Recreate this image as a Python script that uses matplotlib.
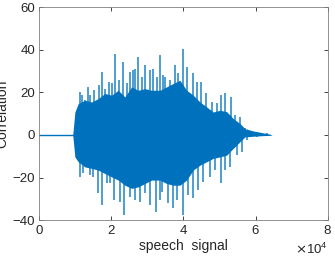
import matplotlib.pyplot as plt
from matplotlib.ticker import ScalarFormatter

plt.rcParams['font.family'] = ['Liberation Sans', 'DejaVu Sans']

# dense part of the waveform (envelope), sample index
core_x = [9300, 9900, 10820, 12680, 14530, 16370, 18220, 20080, 21910, 23770,
          25630, 27460, 29320, 31180, 33480, 35330, 37170, 39030, 40890, 42720,
          44580, 46430, 48270, 50120, 51980, 53820, 55670, 57060, 59360, 62140,
          64000, 64600]
core_upper = [0, 10.8, 14.8, 16.3, 15.5, 17.1, 19.5, 18.7, 21.0, 17.9,
              22.6, 21.0, 21.8, 21.0, 21.0, 22.6, 24.2, 25.7, 21.0, 18.7,
              15.5, 13.2, 10.8, 11.6, 11.0, 7.7, 5.4, 3.0, 1.9, 1.0,
              0.4, 0]
core_lower = [0, -10.3, -12.6, -15.0, -15.7, -16.5, -18.1, -19.7, -21.2, -23.6,
              -25.1, -24.4, -22.8, -21.2, -21.2, -22.8, -23.6, -23.6, -21.2, -16.5,
              -14.2, -12.6, -11.0, -10.3, -9.5, -6.3, -3.2, -0.9, -0.6, -0.3,
              -0.2, 0]

# positive peaks
peak_x = [11290, 11930, 12680, 13420, 14060, 15260, 16560, 17480, 18220, 19330,
          20080, 21000, 22110, 23300, 24240, 25160, 26080, 26550, 27460, 28400,
          29320, 30710, 31620, 32570, 33480, 34400, 34870, 36260, 37640, 38560,
          39780, 41050, 42550, 43660, 44770, 46240, 47820, 49210, 50320, 51510,
          53090, 54290, 55670, 57060, 60300, 63080]
peak_y = [20.2, 18.7, 16.3, 22.6, 18.7, 21.0, 23.4, 29.6, 21.8, 24.9,
          24.2, 38.3, 25.7, 34.3, 24.2, 29.6, 30.4, 31.2, 36.7, 27.3,
          32.8, 30.4, 31.2, 27.3, 37.5, 28.1, 27.3, 25.7, 32.8, 28.9,
          40.6, 32.0, 28.9, 24.9, 24.9, 19.5, 15.5, 14.8, 18.7, 19.5,
          17.9, 9.3, 8.5, 3.1, 1.5, 0.7]

# negative peaks
trough_x = [11290, 12210, 14060, 14980, 16370, 17480, 18700, 19610, 20810, 22390,
            23580, 25160, 26550, 27930, 29320, 30710, 32290, 33480, 33950, 35780,
            37000, 38110, 39950, 41330, 42720, 44110, 45490, 47350, 48740, 50320,
            51510, 52900, 54760, 56150, 57530, 60300]
trough_y = [-19.7, -18.1, -18.9, -19.7, -27.5, -33.0, -22.8, -22.8, -30.6, -31.4,
            -37.7, -29.1, -30.6, -31.4, -27.5, -33.0, -36.1, -30.6, -26.7, -32.2,
            -34.5, -30.6, -37.7, -28.3, -29.8, -25.9, -22.0, -19.7, -16.5, -22.8,
            -16.5, -15.0, -9.5, -7.9, -2.4, -0.9]

blue = '#0072BD'
grey = '#262626'

fig = plt.figure(figsize=(3.35, 2.62), dpi=100)
ax = fig.add_axes([0.117, 0.160, 0.861, 0.812])

ax.plot([0, core_x[0]], [0, 0], color=blue, lw=1.0)
ax.fill_between(core_x, core_lower, core_upper, color=blue, lw=0)
ax.vlines(peak_x, 0, peak_y, color=blue, lw=1.3, alpha=0.75)
ax.vlines(trough_x, 0, trough_y, color=blue, lw=1.3, alpha=0.75)

ax.set_xlim(0, 80000)
ax.set_ylim(-40, 60)
ax.set_xticks([0, 20000, 40000, 60000, 80000])
ax.set_yticks([-40, -20, 0, 20, 40, 60])

fmt = ScalarFormatter(useMathText=True)
fmt.set_powerlimits((0, 0))
ax.xaxis.set_major_formatter(fmt)

ax.tick_params(direction='in', length=3, width=0.6, top=True, right=True,
               labelsize=9.5, colors=grey, labelcolor=grey, pad=3)
ax.xaxis.get_offset_text().set_fontsize(9.5)
ax.xaxis.get_offset_text().set_color(grey)
for s in ax.spines.values():
    s.set_color('#808080')
    s.set_linewidth(0.6)

ax.set_xlabel('speech  signal', fontsize=10, color=grey, labelpad=1)
ax.set_ylabel('Correlation', fontsize=10, color=grey)
ax.yaxis.set_label_coords(-0.105, 0.5)

fig.savefig('out.png', dpi=100)
